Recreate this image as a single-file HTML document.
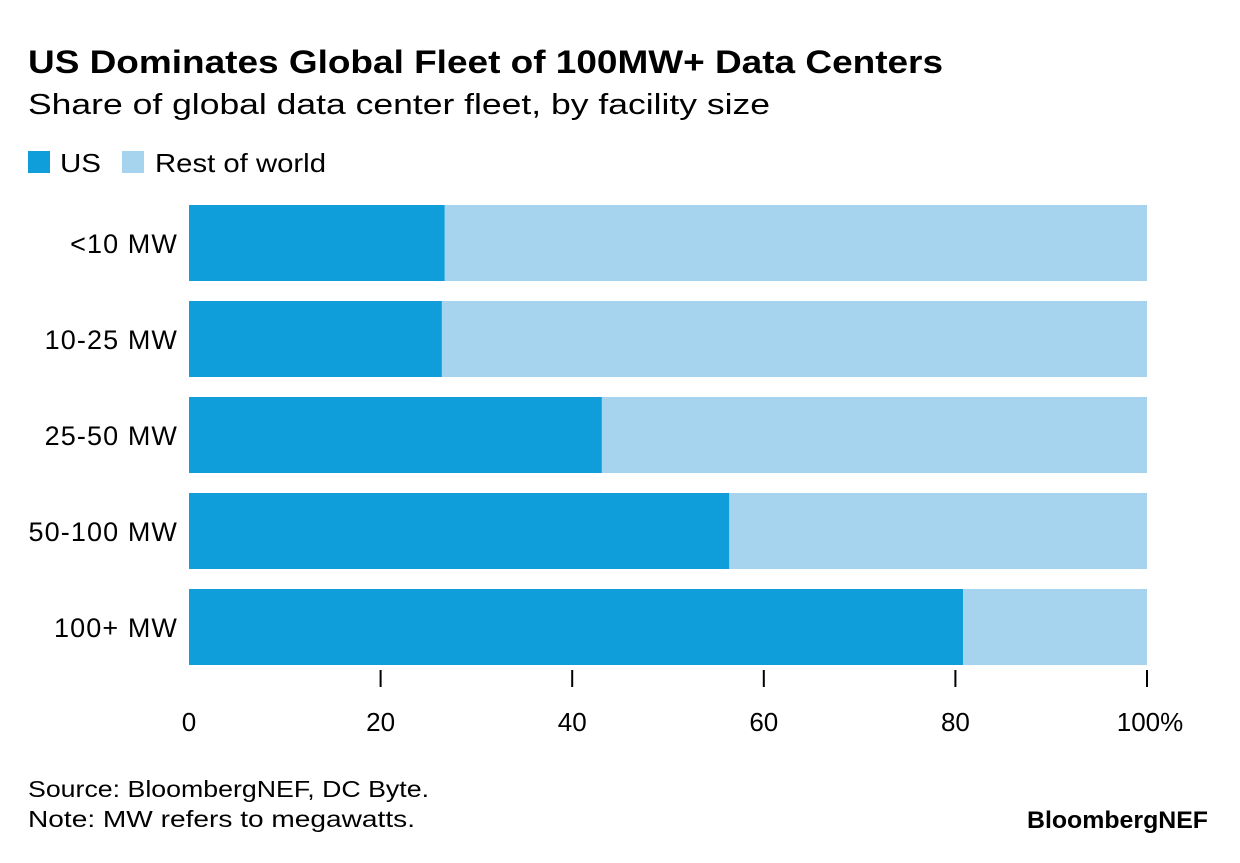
<!DOCTYPE html>
<html><head><meta charset="utf-8"><style>
body{margin:0;background:#fff;width:1240px;height:858px;overflow:hidden;font-family:"Liberation Sans",sans-serif;color:#000}
</style></head><body>
<svg width="1240" height="858">
<text x="28" y="73" font-size="32" font-weight="bold" textLength="915" lengthAdjust="spacingAndGlyphs">US Dominates Global Fleet of 100MW+ Data Centers</text>
<text x="28" y="114" font-size="29" textLength="742" lengthAdjust="spacingAndGlyphs">Share of global data center fleet, by facility size</text>
<g>
<rect x="28" y="151" width="22" height="22" fill="#0f9ed9"/>
<text x="60" y="172" font-size="26" textLength="41" lengthAdjust="spacingAndGlyphs">US</text>
<rect x="122" y="151" width="22" height="22" fill="#a6d4ee"/>
<text x="155" y="172" font-size="26" textLength="171" lengthAdjust="spacingAndGlyphs">Rest of world</text>
</g>
<g id="plot"></g>
<text x="28" y="797" font-size="23" textLength="401" lengthAdjust="spacingAndGlyphs">Source: BloombergNEF, DC Byte.</text>
<text x="28" y="827" font-size="23" textLength="387" lengthAdjust="spacingAndGlyphs">Note: MW refers to megawatts.</text>
<text x="1027" y="828" font-size="24" font-weight="bold" textLength="181" lengthAdjust="spacingAndGlyphs">BloombergNEF</text>
</svg>
<script>
const categories=["<10 MW","10-25 MW","25-50 MW","50-100 MW","100+ MW"];
const usShare=[26.7,26.4,43.1,56.4,80.8];
const restShare=[73.3,73.6,56.9,43.6,19.2];
const ticks=[0,20,40,60,80,100];
const tickLabels=["0","20","40","60","80","100%"];
const ns="http://www.w3.org/2000/svg";
const g=document.getElementById("plot");
const x0=189,x1=1147,top0=205,step=96,bh=76;
const xs=v=>x0+(x1-x0)*v/100;
function el(t,a){const e=document.createElementNS(ns,t);for(const k in a)e.setAttribute(k,a[k]);g.appendChild(e);return e;}
categories.forEach((c,i)=>{
 const y=top0+i*step;
 const r1=el("rect",{x:xs(0),y:y,width:xs(usShare[i])-xs(0),height:bh,fill:"#0f9ed9"});
 
 
 const r2=el("rect",{x:xs(usShare[i]),y:y,width:xs(usShare[i]+restShare[i])-xs(usShare[i]),height:bh,fill:"#a6d4ee"});
 
 
 const t=el("text",{x:178,y:y+bh/2+10,"font-size":27,"letter-spacing":1.1,"text-anchor":"end"});
 t.textContent=c;
 
 
});
ticks.forEach((v,i)=>{
 if(v>0){const l=el("line",{x1:xs(v),x2:xs(v),y1:670,y2:687,stroke:"#000","stroke-width":2});
 
 }
 const t=el("text",{x:xs(v)+(v===100?3:0),y:731,"font-size":26,"text-anchor":"middle"});
 t.textContent=tickLabels[i];
 
 
});
</script>
</body></html>
